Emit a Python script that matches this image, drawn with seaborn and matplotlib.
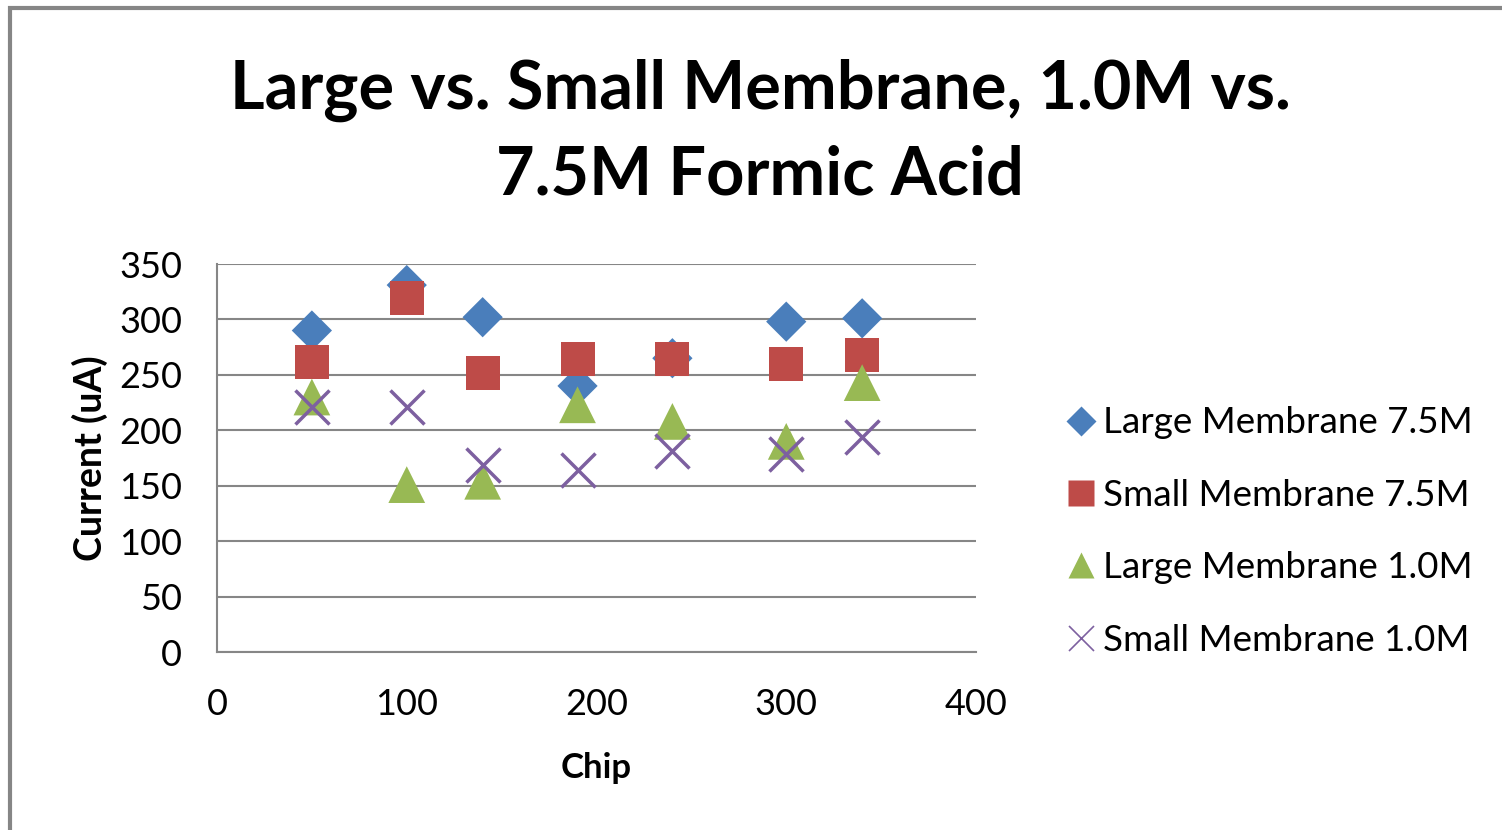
import matplotlib
matplotlib.use("Agg")
import matplotlib.pyplot as plt
import seaborn as sns
import pandas as pd
from matplotlib.patches import Rectangle
from matplotlib.lines import Line2D

chips = [50, 100, 140, 190, 240, 300, 340]
large_75 = [290, 331, 302, 240, 265, 298, 301]
small_75 = [262, 319, 252, 264, 264, 260, 268]
large_10 = [230, 151, 154, 223, 208, 190, 243]
small_10 = [221, 221, 169, 164, 181, 179, 194]

series_names = ["Large Membrane 7.5M", "Small Membrane 7.5M",
                "Large Membrane 1.0M", "Small Membrane 1.0M"]
series_values = [large_75, small_75, large_10, small_10]
colors = ["#4A7EBB", "#BE4B48", "#98B954", "#7D60A0"]
markers = ["D", "s", "^", "x"]
sizes = [420, 600, 700, 600]

xticks = [0, 100, 200, 300, 400]
yticks = [0, 50, 100, 150, 200, 250, 300, 350]

sns.set_theme(style="white")
plt.rcParams['font.family'] = ['Lato', 'DejaVu Sans']
plt.rcParams['text.color'] = '#000000'
plt.rcParams['axes.labelcolor'] = '#000000'

fig = plt.figure(figsize=(15.02, 8.30), dpi=100)
ax = fig.add_axes([217/1502, 1-652/830, (976-217)/1502, (652-264)/830])

for name, vals, c, m, s in zip(series_names, series_values, colors, markers, sizes):
    df = pd.DataFrame({"Chip": chips, "Current": vals})
    if m == "x":
        sns.scatterplot(data=df, x="Chip", y="Current", ax=ax, marker=m, s=s,
                        color=c, linewidth=2.5, zorder=3)
    else:
        sns.scatterplot(data=df, x="Chip", y="Current", ax=ax, marker=m, s=s,
                        color=c, edgecolor="none", linewidth=0, zorder=3)

ax.set_xlim(0, 400)
ax.set_ylim(0, 350)
ax.set_xticks(xticks)
ax.set_yticks(yticks)
ax.set_xticklabels([str(t) for t in xticks])
ax.set_yticklabels([str(t) for t in yticks])
ax.tick_params(axis="both", labelsize=26, labelcolor="#000000", length=10, width=1.5,
               direction="out", color="#868686")
ax.tick_params(axis="x", pad=16)
ax.tick_params(axis="y", pad=15)
ax.yaxis.grid(True, color="#868686", linewidth=1.5)
ax.set_axisbelow(True)
for sp in ["top", "right"]:
    ax.spines[sp].set_visible(False)
for sp in ["left", "bottom"]:
    ax.spines[sp].set_color("#868686")
    ax.spines[sp].set_linewidth(1.5)
ax.set_xlabel("Chip", fontsize=25, fontweight="bold", labelpad=22, color="#000000")
ax.set_ylabel("Current (uA)", fontsize=27, fontweight="bold", labelpad=8, color="#000000")

fig.text(760/1502, 1-133/830, "Large vs. Small Membrane, 1.0M vs.\n7.5M Formic Acid",
         ha="center", va="center", fontsize=48, fontweight="bold", linespacing=1.45,
         color="#000000")

handles = []
for name, c, m in zip(series_names, colors, markers):
    if m == "x":
        h = Line2D([], [], marker=m, color=c, linestyle="none", markersize=18,
                   markeredgewidth=1.2)
    else:
        h = Line2D([], [], marker=m, color=c, markeredgecolor="none",
                   linestyle="none", markersize=19 if m != "D" else 15)
    handles.append(h)
leg = fig.legend(handles, series_names, loc="upper left",
                 bbox_to_anchor=(1050/1502, 1-388/830), frameon=False, fontsize=26.5,
                 handlelength=0.7, handletextpad=0.25, labelspacing=1.07, borderpad=0)
for t in leg.get_texts():
    t.set_color("#000000")

fig.patches.append(Rectangle((10/1502, -0.05), 1.1, 1-8/830+0.05,
                             transform=fig.transFigure, fill=False,
                             edgecolor="#868686", linewidth=3))

fig.savefig("out.png", dpi=100)
